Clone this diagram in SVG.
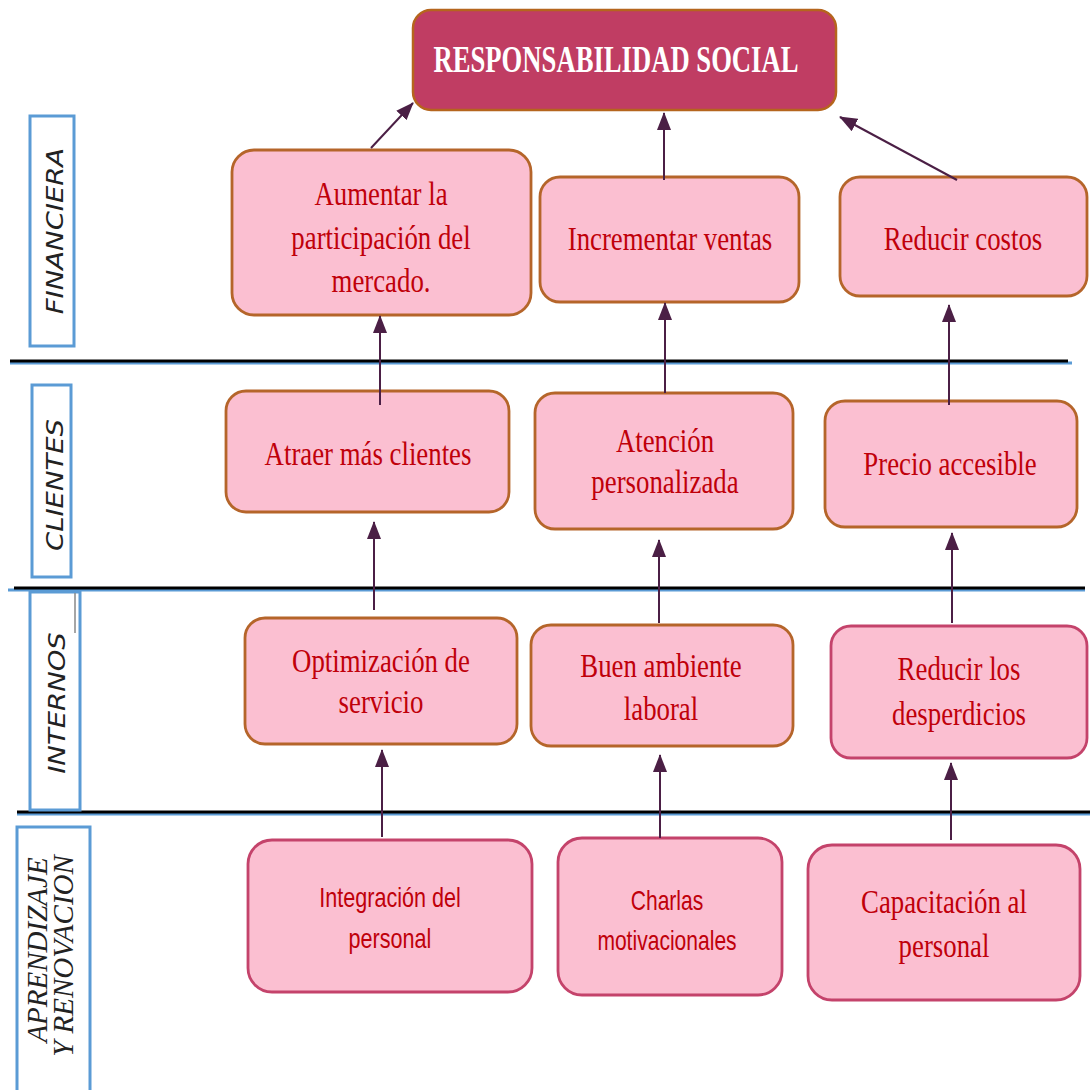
<svg xmlns="http://www.w3.org/2000/svg" width="1090" height="1090" viewBox="0 0 1090 1090">
<style>
.box{fill:#FBBFD1;stroke:#B5652A;stroke-width:2.8}
.box2{fill:#FBBFD1;stroke:#C4436B;stroke-width:2.8}
.t{font-family:"Liberation Serif",serif;font-size:33.5px;fill:#C0000A;text-anchor:middle}
.ts{font-family:"Liberation Sans",sans-serif;font-size:27px;fill:#C0000A;text-anchor:middle}
.lab{fill:#fff;stroke:#5B9BD5;stroke-width:3}
.labt{font-family:"DejaVu Sans",sans-serif;font-style:italic;font-size:27.5px;fill:#222;text-anchor:middle}
.labs{font-family:"Liberation Serif",serif;font-style:italic;font-size:29px;fill:#222;text-anchor:middle}
.sep{stroke:#000;stroke-width:3}
.sepb{stroke:#5B9BD5;stroke-width:3}
.c{stroke:#4B1F45;stroke-width:2;fill:none;marker-end:url(#ah)}
</style>
<defs>
<marker id="ah" markerUnits="userSpaceOnUse" markerWidth="18" markerHeight="14" refX="17" refY="7" orient="auto">
<path d="M0,0 L18,7 L0,14 z" fill="#4B1F45"/>
</marker>
</defs>
<rect width="1090" height="1090" fill="#fff"/>

<g id="separators">
<line class="sepb" x1="10" y1="363" x2="1072" y2="363"/>
<line class="sep" x1="10" y1="361" x2="1068" y2="361"/>
<line class="sepb" x1="8" y1="590" x2="1085" y2="590"/>
<line class="sep" x1="14" y1="588" x2="1085" y2="588"/>
<line class="sepb" x1="17" y1="814" x2="1090" y2="814"/>
<line class="sep" x1="17" y1="812" x2="1090" y2="812"/>
</g>

<g id="lane-financiera">
<rect class="lab" x="30" y="116" width="44" height="230"/>
<text class="labt" transform="translate(63,231) scale(0.82,1) rotate(-90)">FINANCIERA</text>
</g>
<g id="lane-clientes">
<rect class="lab" x="32" y="385" width="39" height="192"/>
<text class="labt" transform="translate(63,485) scale(0.82,1) rotate(-90)">CLIENTES</text>
</g>
<g id="lane-internos">
<rect class="lab" x="30" y="592" width="50" height="218"/>
<text class="labt" transform="translate(65,703) scale(0.82,1) rotate(-90)">INTERNOS</text>
<line x1="75" y1="593" x2="75" y2="633" stroke="#888" stroke-width="1.5"/>
</g>
<g id="lane-aprendizaje">
<rect class="lab" x="17" y="827" width="73" height="270"/>
<text class="labs" transform="translate(47,950) rotate(-90)">APRENDIZAJE</text>
<text class="labs" transform="translate(73,956) rotate(-90)">Y RENOVACION</text>
</g>

<g id="n-top">
<rect x="413" y="10" width="423" height="100" rx="18" fill="#C03D63" stroke="#B5651D" stroke-width="2.5"/>
<text x="616" y="72" font-family="Liberation Serif,serif" font-weight="bold" font-size="37" fill="#fff" text-anchor="middle" textLength="365" lengthAdjust="spacingAndGlyphs">RESPONSABILIDAD SOCIAL</text>
</g>

<g id="n-aumentar">
<rect class="box" x="232" y="150" width="299" height="165" rx="22"/>
<g transform="translate(381,0) scale(0.8,1)">
<text class="t" x="0" y="205">Aumentar la</text>
<text class="t" x="0" y="249">participación del</text>
<text class="t" x="0" y="292">mercado.</text>
</g>
</g>
<g id="n-incrementar">
<rect class="box" x="540" y="177" width="259" height="125" rx="20"/>
<g transform="translate(670,0) scale(0.8,1)"><text class="t" x="0" y="250">Incrementar ventas</text></g>
</g>
<g id="n-reducir-costos">
<rect class="box" x="840" y="177" width="247" height="119" rx="20"/>
<g transform="translate(963,0) scale(0.8,1)"><text class="t" x="0" y="250">Reducir costos</text></g>
</g>

<g id="n-atraer">
<rect class="box" x="226" y="391" width="283" height="121" rx="20"/>
<g transform="translate(368,0) scale(0.8,1)"><text class="t" x="0" y="465">Atraer más clientes</text></g>
</g>
<g id="n-atencion">
<rect class="box" x="535" y="393" width="258" height="136" rx="20"/>
<g transform="translate(665,0) scale(0.8,1)">
<text class="t" x="0" y="452">Atención</text>
<text class="t" x="0" y="493">personalizada</text>
</g>
</g>
<g id="n-precio">
<rect class="box" x="825" y="401" width="252" height="126" rx="20"/>
<g transform="translate(950,0) scale(0.8,1)"><text class="t" x="0" y="475">Precio accesible</text></g>
</g>

<g id="n-optimizacion">
<rect class="box" x="245" y="618" width="272" height="126" rx="20"/>
<g transform="translate(381,0) scale(0.8,1)">
<text class="t" x="0" y="672">Optimización de</text>
<text class="t" x="0" y="713">servicio</text>
</g>
</g>
<g id="n-buen-ambiente">
<rect class="box" x="531" y="625" width="262" height="121" rx="20"/>
<g transform="translate(661,0) scale(0.8,1)">
<text class="t" x="0" y="677">Buen ambiente</text>
<text class="t" x="0" y="720">laboral</text>
</g>
</g>
<g id="n-reducir-desperdicios">
<rect class="box2" x="831" y="626" width="256" height="132" rx="20"/>
<g transform="translate(959,0) scale(0.8,1)">
<text class="t" x="0" y="680">Reducir los</text>
<text class="t" x="0" y="725">desperdicios</text>
</g>
</g>

<g id="n-integracion">
<rect class="box2" x="248" y="840" width="284" height="152" rx="24"/>
<g transform="translate(390,0) scale(0.8,1)">
<text class="ts" x="0" y="907">Integración del</text>
<text class="ts" x="0" y="948">personal</text>
</g>
</g>
<g id="n-charlas">
<rect class="box2" x="558" y="838" width="224" height="157" rx="24"/>
<g transform="translate(667,0) scale(0.78,1)">
<text class="ts" x="0" y="910">Charlas</text>
<text class="ts" x="0" y="950">motivacionales</text>
</g>
</g>
<g id="n-capacitacion">
<rect class="box2" x="808" y="845" width="272" height="155" rx="24"/>
<g transform="translate(944,0) scale(0.8,1)">
<text class="t" x="0" y="913">Capacitación al</text>
<text class="t" x="0" y="957">personal</text>
</g>
</g>

<g id="connectors">
<line class="c" x1="371" y1="148" x2="413" y2="103"/>
<line class="c" x1="664" y1="180" x2="664" y2="113"/>
<line class="c" x1="957" y1="180" x2="840" y2="117"/>
<line class="c" x1="380" y1="405" x2="380" y2="316"/>
<line class="c" x1="665" y1="393" x2="665" y2="303"/>
<line class="c" x1="949" y1="405" x2="949" y2="305"/>
<line class="c" x1="374" y1="610" x2="374" y2="522"/>
<line class="c" x1="659" y1="623" x2="659" y2="540"/>
<line class="c" x1="952" y1="623" x2="952" y2="533"/>
<line class="c" x1="382" y1="837" x2="382" y2="750"/>
<line class="c" x1="660" y1="838" x2="660" y2="755"/>
<line class="c" x1="951" y1="840" x2="951" y2="763"/>
</g>
</svg>
